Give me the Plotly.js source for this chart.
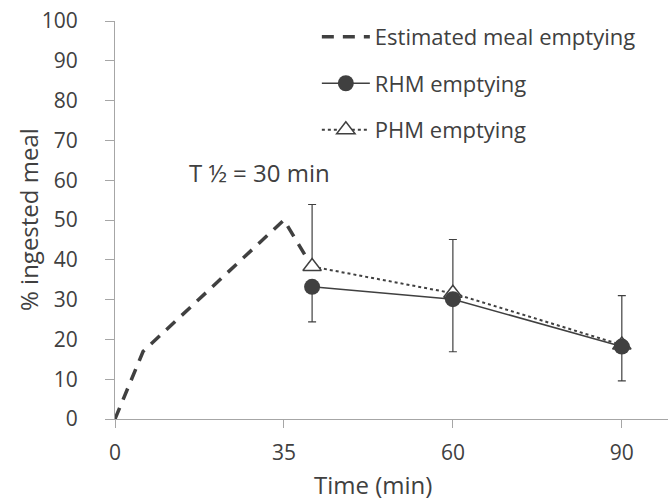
<!DOCTYPE html>
<html>
<head>
<meta charset="utf-8">
<script src="https://cdn.plot.ly/plotly-3.0.1.min.js"></script>
<style>
  html, body { margin: 0; padding: 0; background: #fff; }
  #chart { width: 668px; height: 500px; }
</style>
</head>
<body>
<div id="chart"></div>
<script>
// Estimated meal emptying (dashed)
const estTime = [0, 5, 30, 35];
const estPct = [0, 17, 50, 38.2];

// Measured time points
const measTime = [35, 60, 90];

// RHM emptying (solid, filled circles) with lower error bars
const rhmPct = [33.2, 30.1, 18.2];
const rhmErrMinus = [8.8, 13.2, 8.6];

// PHM emptying (dotted, open triangles) with upper error bars
const phmPct = [38.3, 31.6, 18.6];
const phmErrPlus = [15.6, 13.5, 12.4];

// Tick labels
const xTickVals = [0, 30, 60, 90];
const xTickText = ["0", "35", "60", "90"];
const yTickVals = [0, 10, 20, 30, 40, 50, 60, 70, 80, 90, 100];

const dark = "#404040";
const axisGray = "#a6a6a6";
const font = "Open Sans, Noto Sans, sans-serif";

const traces = [
  {
    x: estTime, y: estPct, type: "scatter", mode: "lines",
    name: "Estimated meal emptying",
    line: { color: dark, width: 3.5, dash: "12px,9px" },
    legendrank: 1, legendgroup: "a"
  },
  {
    x: measTime, y: phmPct, type: "scatter", mode: "lines+markers",
    name: "PHM emptying",
    line: { color: dark, width: 2, dash: "dot" },
    marker: { symbol: "triangle-up", size: 16, color: "#ffffff", line: { color: dark, width: 1.5 } },
    error_y: { type: "data", symmetric: false, array: phmErrPlus, arrayminus: [0, 0, 0], color: dark, thickness: 1.2, width: 4 },
    legendrank: 3, legendgroup: "c"
  },
  {
    x: measTime, y: rhmPct, type: "scatter", mode: "lines+markers",
    name: "RHM emptying",
    line: { color: dark, width: 1.5 },
    marker: { symbol: "circle", size: 16, color: dark },
    error_y: { type: "data", symmetric: false, array: [0, 0, 0], arrayminus: rhmErrMinus, color: dark, thickness: 1.2, width: 4 },
    legendrank: 2, legendgroup: "b"
  }
];

const layout = {
  width: 668, height: 500,
  margin: { l: 115, r: 0, t: 21, b: 81 },
  paper_bgcolor: "#ffffff", plot_bgcolor: "#ffffff",
  font: { family: font, color: dark, size: 21 },
  showlegend: true,
  legend: {
    x: 0.365, y: 1.013, xanchor: "left", yanchor: "top",
    bgcolor: "rgba(0,0,0,0)",
    font: { family: font, size: 22, color: dark },
    traceorder: "grouped", tracegroupgap: 15,
    itemwidth: 48
  },
  xaxis: {
    range: [0, 98.2],
    tickmode: "array", tickvals: xTickVals, ticktext: xTickText,
    showgrid: false, zeroline: false,
    showline: true, linecolor: axisGray, linewidth: 1,
    ticks: "outside", ticklen: 8, tickcolor: axisGray,
    tickfont: { family: font, size: 21, color: dark },
    ticklabelstandoff: 7
  },
  yaxis: {
    range: [0, 100],
    tickmode: "array", tickvals: yTickVals,
    showgrid: false, zeroline: false,
    showline: true, linecolor: axisGray, linewidth: 1,
    ticks: "outside", ticklen: 9, tickcolor: axisGray,
    tickfont: { family: font, size: 21, color: dark },
    ticklabelstandoff: 23
  },
  annotations: [
    {
      text: "T ½ = 30 min", xref: "x", yref: "y", x: 25.6, y: 62,
      showarrow: false, font: { family: font, size: 24, color: dark }
    },
    {
      text: "Time (min)", xref: "paper", yref: "paper",
      x: (373 - 115) / 553, y: -0.165, xanchor: "center", yanchor: "middle",
      showarrow: false, font: { family: font, size: 24, color: dark }
    },
    {
      text: "% ingested meal", xref: "paper", yref: "paper",
      x: (28 - 115) / 553, y: 0.5, xanchor: "center", yanchor: "middle",
      textangle: -90,
      showarrow: false, font: { family: font, size: 24, color: dark }
    }
  ]
};

Plotly.newPlot("chart", traces, layout, { displayModeBar: false, staticPlot: true });
</script>
</body>
</html>
